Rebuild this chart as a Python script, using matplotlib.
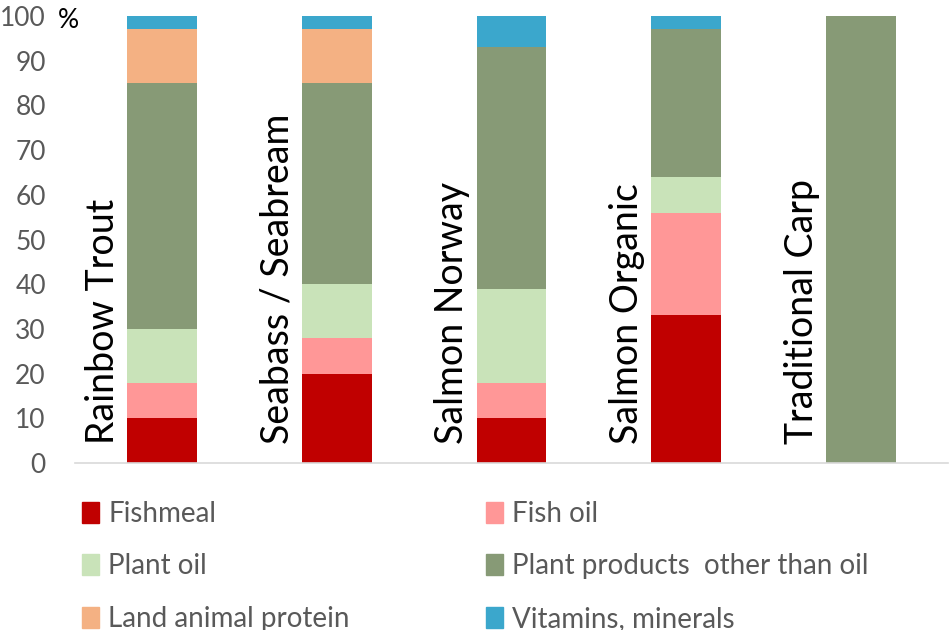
import matplotlib
matplotlib.use("Agg")
import matplotlib.pyplot as plt
import numpy as np
from matplotlib.patches import Patch

plt.rcParams['font.family'] = ['Lato', 'DejaVu Sans']

species = ["Rainbow Trout", "Seabass / Seabream", "Salmon Norway", "Salmon Organic", "Traditional Carp"]
components = ["Fishmeal", "Fish oil", "Plant oil", "Plant products  other than oil",
              "Land animal protein", "Vitamins, minerals"]
fishmeal = [10, 20, 10, 33, 0]
fish_oil = [8, 8, 8, 23, 0]
plant_oil = [12, 12, 21, 8, 0]
plant_products = [55, 45, 54, 33, 100]
land_animal = [12, 12, 0, 0, 0]
vitamins = [3, 3, 7, 3, 0]
series = [fishmeal, fish_oil, plant_oil, plant_products, land_animal, vitamins]
colors = ["#C00000", "#FF9797", "#C9E3B9", "#879A76", "#F4B183", "#3BA7CC"]

fig = plt.figure(figsize=(9.5, 6.3), dpi=100)
ax = fig.add_axes([75/950, 167/630, 873/950, 447/630])

x = np.arange(len(species))
bottom = np.zeros(len(species))
w = 0.4
for vals, c, name in zip(series, colors, components):
    ax.bar(x, vals, w, bottom=bottom, color=c, label=name, zorder=2)
    bottom += np.array(vals)

for i, name in enumerate(species):
    ax.text(i - w/2 - 0.035, 4.3, name, rotation=90, ha="right", va="bottom",
            fontsize=27, color="black")

ax.set_xlim(-0.5, 4.5)
ax.set_ylim(0, 100)
ax.set_yticks(range(0, 101, 10))
ax.set_xticks([])
ax.tick_params(axis="y", length=0, labelsize=19, labelcolor="#595959", pad=21)
for s in ["top", "right", "left"]:
    ax.spines[s].set_visible(False)
ax.spines["bottom"].set_color("#D9D9D9")
ax.spines["bottom"].set_linewidth(1.2)
fig.text(58/950, 1 - 20/630, "%", fontsize=19, ha="left", va="center")

order = [0, 2, 4, 1, 3, 5]
handles = [Patch(color=colors[k], label=components[k]) for k in order]
leg = fig.legend(handles=handles, ncol=2, loc="upper left", bbox_to_anchor=(57/950, 1 - 476/630),
                 frameon=False, fontsize=20, handlelength=0.6, handleheight=0.8,
                 handletextpad=0.35, labelspacing=0.95, columnspacing=4.9)
for t in leg.get_texts():
    t.set_color("#595959")

fig.savefig("out.png", dpi=100)
